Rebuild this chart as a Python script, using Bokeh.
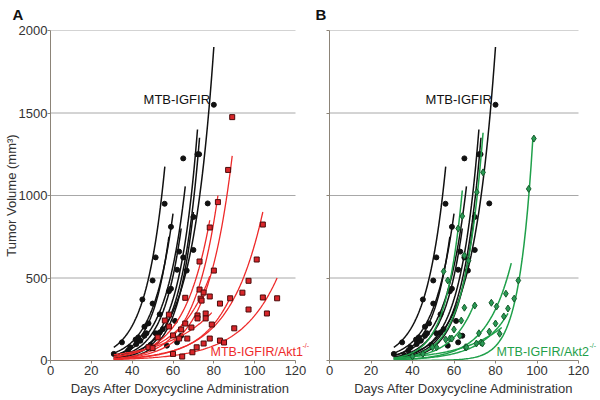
import numpy as np
from bokeh.plotting import figure
from bokeh.layouts import row
from bokeh.models import Label, FixedTicker
from bokeh.embed import file_html
from bokeh.resources import INLINE

# ---------------- data ----------------
day_ticks = [0, 20, 40, 60, 80, 100, 120]
vol_ticks = [0, 500, 1000, 1500, 2000]

# MTB-IGFIR tumours (shown in both panels)
igfir_day = [31, 35, 39, 41.7, 43, 45, 46, 47, 48, 50, 50, 51.5, 51.5, 53.5, 53.5,
             55.9, 59, 59, 58, 62, 62, 63, 64, 65, 66.7, 70, 70, 77, 65, 72, 72.8, 80,
             38, 42, 55, 57, 61, 46, 44, 49, 36]
igfir_vol = [40, 110, 80, 127, 140, 370, 150, 165, 225, 345, 485, 625, 165, 280, 170,
             950, 810, 435, 420, 550, 110, 660, 150, 625, 545, 670, 870, 952, 1225, 1250, 1250, 1550,
             60, 100, 190, 90, 240, 205, 120, 95, 30]
# exponential fits: start day, end day, volume at start, volume at end
igfir_fit_d0 = [31, 31, 31, 31, 31, 31, 31, 31, 31]
igfir_fit_d1 = [80, 73, 56, 60, 66, 72, 58, 64, 70]
igfir_fit_v0 = [20, 12, 80, 45, 30, 15, 30, 20, 8]
igfir_fit_v1 = [1900, 1350, 1175, 890, 1055, 1400, 750, 800, 900]

# MTB-IGFIR/Akt1-/- tumours
akt1_day = [82, 78, 73, 80, 66, 73, 75, 73.5, 74, 78, 76, 76, 72, 72, 83, 79, 58, 56, 58,
            52.5, 60, 63, 64, 66, 67, 69, 71.6, 69.5, 75, 78, 83, 85, 90, 88, 94, 97, 97,
            101, 104, 104, 106, 111, 64.5, 60, 48, 50, 89, 87]
akt1_vol = [960, 806, 600, 545, 380, 430, 412, 375, 363, 388, 285, 255, 273, 255, 345, 218,
            278, 242, 206, 140, 152, 133, 188, 224, 133, 200, 80, 50, 103, 133, 121, 109, 195,
            377, 411, 483, 309, 612, 824, 382, 285, 377, 24, 40, 80, 75, 1475, 1155]
akt1_fit_d0 = [31, 31, 31, 31, 31, 31, 31, 31]
akt1_fit_d1 = [89, 78, 104, 111, 78, 79, 88, 82]
akt1_fit_v0 = [10, 20, 10, 6, 25, 35, 8, 12]
akt1_fit_v1 = [1240, 850, 900, 500, 510, 290, 380, 1000]

# MTB-IGFIR/Akt2-/- tumours
akt2_day = [74, 71, 96, 98.5, 64, 62, 67, 65, 55, 57, 65, 63.5, 70, 60, 62.8, 56, 58, 65.5,
            51.6, 49.6, 78, 80.5, 85, 89, 91, 86, 84, 80, 77, 72, 70.8, 73, 82, 66, 59, 73.7,
            45, 40]
akt2_vol = [1140, 1020, 1040, 1345, 875, 800, 605, 636, 540, 485, 320, 242, 333, 188, 150,
            127, 133, 80, 80, 80, 350, 327, 405, 375, 485, 315, 267, 224, 175, 165, 103, 109,
            162, 80, 133, 103, 40, 25]
akt2_fit_d0 = [31, 31, 31, 31, 31, 31, 31]
akt2_fit_d1 = [74, 64, 98, 87.6, 70, 86, 83]
akt2_fit_v0 = [10, 15, 0.05, 5, 10, 5, 15]
akt2_fit_v1 = [1380, 1030, 1345, 590, 350, 285, 200]

FONT = "Liberation Sans"
BLACK = "#111111"
RED = "#ee2a2a"
GREEN = "#1fa04a"
AXIS = "#8c8478"
GRID = "#a8a8a8"
TXT = "#333333"


def fit_curves(d0s, d1s, v0s, v1s):
    xs, ys = [], []
    for d0, d1, v0, v1 in zip(d0s, d1s, v0s, v1s):
        x = np.linspace(d0, d1, 80)
        y = v0 * (v1 / v0) ** ((x - d0) / (d1 - d0))
        xs.append(list(x))
        ys.append(list(y))
    return xs, ys


def base_fig(width, left, right, x_end, show_ylabels, letter, letter_offset):
    p = figure(width=width, height=400, x_range=(0, x_end), y_range=(0, 2000),
               output_backend="svg", toolbar_location=None,
               min_border_left=left, min_border_right=right,
               min_border_top=30, min_border_bottom=40)
    p.outline_line_color = None
    p.background_fill_color = "white"
    p.xgrid.grid_line_color = None
    p.ygrid.grid_line_color = None
    # horizontal grid lines that stop at day 120, as in the reference
    p.segment(x0=[day_ticks[0]] * (len(vol_ticks) - 1), y0=vol_ticks[1:],
              x1=[day_ticks[-1]] * (len(vol_ticks) - 1), y1=vol_ticks[1:],
              line_color=GRID, line_width=1)
    p.xaxis.ticker = FixedTicker(ticks=day_ticks)
    p.yaxis.ticker = FixedTicker(ticks=vol_ticks)
    p.xaxis.bounds = (day_ticks[0], day_ticks[-1])
    for ax in (p.xaxis[0], p.yaxis[0]):
        ax.axis_line_color = AXIS
        ax.major_tick_line_color = AXIS
        ax.minor_tick_line_color = None
        ax.major_tick_out = 3
        ax.major_tick_in = 0
        ax.major_label_text_font = FONT
        ax.major_label_text_font_size = "13px"
        ax.major_label_text_color = TXT
        ax.major_label_standoff = 0
    p.xaxis.major_label_standoff = 2
    p.xaxis.axis_label = "Days After Doxycycline Administration"
    p.xaxis.axis_label_text_font = FONT
    p.xaxis.axis_label_text_font_size = "13px"
    p.xaxis.axis_label_text_font_style = "normal"
    p.xaxis.axis_label_text_color = TXT
    p.xaxis.axis_label_standoff = 3
    if show_ylabels:
        p.yaxis.axis_label = "Tumor Volume (mm³)"
        p.yaxis.axis_label_text_font = FONT
        p.yaxis.axis_label_text_font_size = "13px"
        p.yaxis.axis_label_text_font_style = "normal"
        p.yaxis.axis_label_text_color = TXT
        p.yaxis.axis_label_standoff = -3
    else:
        p.yaxis.major_label_overrides = {t: "" for t in vol_ticks}
    p.title.text = letter
    p.title.text_font = FONT
    p.title.text_font_size = "15px"
    p.title.text_font_style = "bold"
    p.title.text_color = "#111111"
    p.title.align = "left"
    p.title.vertical_align = "top"
    p.title.offset = letter_offset
    p.title.standoff = 11
    return p


def add_igfir(p):
    xs, ys = fit_curves(igfir_fit_d0, igfir_fit_d1, igfir_fit_v0, igfir_fit_v1)
    p.multi_line(xs, ys, line_color=BLACK, line_width=1.5)
    p.scatter(igfir_day, igfir_vol, marker="circle", size=5, fill_color=BLACK,
              line_color=BLACK)


# ---------------- panel A ----------------
# frame spans pixels 50..310; day 0..120 covers 245 px
pa = base_fig(312, 50, 2, 120 * 260 / 245, True, "A", -38)
add_igfir(pa)
xs, ys = fit_curves(akt1_fit_d0, akt1_fit_d1, akt1_fit_v0, akt1_fit_v1)
pa.multi_line(xs, ys, line_color=RED, line_width=1.3)
pa.scatter(akt1_day, akt1_vol, marker="square", size=5, fill_color="#d8262a",
           line_color="#4a0a0a", line_width=1)

pa.add_layout(Label(x=45.6, y=1582, text="MTB-IGFIR", text_font=FONT,
                    text_font_size="13px", text_color=BLACK, text_baseline="middle"))
pa.add_layout(Label(x=78.4, y=50, text="MTB-IGFIR/Akt1", text_font=FONT,
                    text_font_size="12.5px", text_color=RED, text_baseline="middle"))
pa.add_layout(Label(x=123.4, y=88, text="-/-", text_font=FONT,
                    text_font_size="7px", text_color=RED, text_baseline="middle"))

# ---------------- panel B ----------------
# frame spans pixels 329..598 of the page; day 0..120 covers 249 px
pb = base_fig(288, 17, 2, 120 * 269 / 249, False, "B", -14)
add_igfir(pb)
xs, ys = fit_curves(akt2_fit_d0, akt2_fit_d1, akt2_fit_v0, akt2_fit_v1)
pb.multi_line(xs, ys, line_color=GREEN, line_width=1.5)
pb.scatter(akt2_day, akt2_vol, marker="diamond", size=7, fill_color="#2a9a55",
           line_color="#145a2a", line_width=1)

pb.add_layout(Label(x=46.3, y=1582, text="MTB-IGFIR", text_font=FONT,
                    text_font_size="13px", text_color=BLACK, text_baseline="middle"))
pb.add_layout(Label(x=80.5, y=50, text="MTB-IGFIR/Akt2", text_font=FONT,
                    text_font_size="12.5px", text_color=GREEN, text_baseline="middle"))
pb.add_layout(Label(x=125.3, y=88, text="-/-", text_font=FONT,
                    text_font_size="7px", text_color=GREEN, text_baseline="middle"))

layout = row(pa, pb)
open("out.html", "w").write(file_html(layout, INLINE))
